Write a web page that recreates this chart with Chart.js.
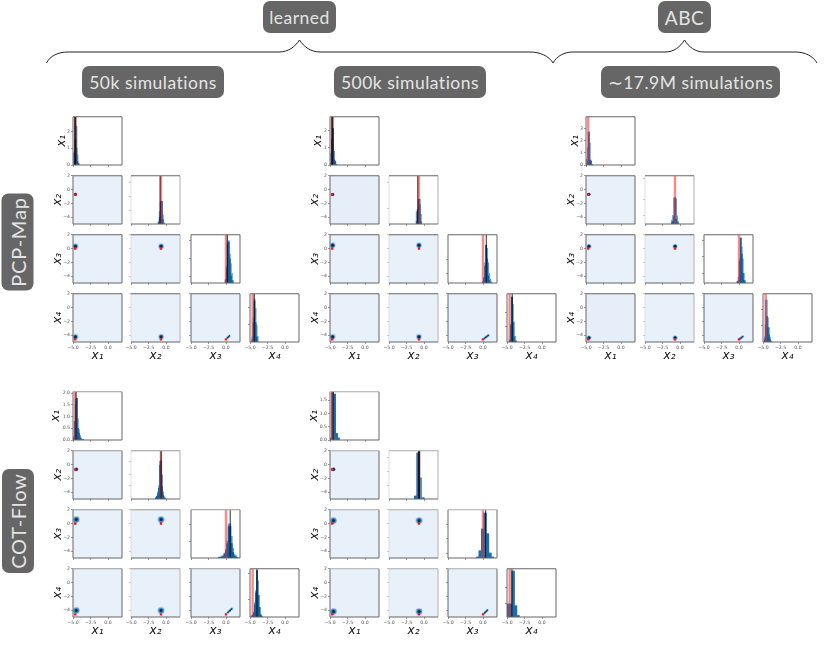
<!DOCTYPE html>
<html>
<head>
<meta charset="utf-8">
<title>Pair plots</title>
<script src="https://cdn.jsdelivr.net/npm/chart.js@4/dist/chart.umd.min.js"></script>
<style>
  html, body { margin: 0; padding: 0; background: #fff; }
  #page { position: relative; width: 830px; height: 648px; overflow: hidden; font-family: Lato, "Open Sans", sans-serif; }
  #page canvas { position: absolute; }
  #braces { position: absolute; left: 0; top: 0; }
  .badge {
    position: absolute; box-sizing: border-box; background: #666; color: #e4e4e4;
    border-radius: 7px; font-size: 17.5px; letter-spacing: 0.5px;
    display: flex; align-items: center; justify-content: center; white-space: nowrap;
  }
  .side { transform: rotate(-90deg); transform-origin: center; font-size: 20px; letter-spacing: 0.8px; }
</style>
</head>
<body>
<div id="page">
  <svg id="braces" width="830" height="110" fill="none" stroke="#222" stroke-width="1">
    <path d="M46.500 63 C50 56 58 52 68 52 L279 52 C288 52 295 47 299.500 40 C304 47 311 52 320 52 L530 52 C540 52 549 56 553 63"/>
    <path d="M553 63 C557 56 564 52 573 52 L665 52 C674 52 680 47 684.500 40 C689 47 695 52 704 52 L795 52 C805 52 813 56 817 63"/>
  </svg>
  <div class="badge" style="left:263px;top:1px;width:73px;height:32px">learned</div>
  <div class="badge" style="left:658px;top:1px;width:53px;height:32px;font-size:19px">ABC</div>
  <div class="badge" style="left:82px;top:66px;width:142px;height:32px">50k simulations</div>
  <div class="badge" style="left:334px;top:66px;width:152px;height:32px">500k simulations</div>
  <div class="badge" style="left:601px;top:66px;width:179px;height:32px">∼17.9M simulations</div>
  <div class="badge side" style="left:-31px;top:226px;width:97px;height:32px">PCP-Map</div>
  <div class="badge side" style="left:-34.500px;top:504.500px;width:104px;height:32px">COT-Flow</div>
</div>
<script>
const axisNames = ['x₁', 'x₂', 'x₃', 'x₄'];
const xTickValues = [-5, -2.5, 0];
const xTickLabels = ['−5.0', '−2.5', '0.0'];
const yTickValues = [2, 0, -2, -4];
const yTickLabels = ['2', '0', '−2', '−4'];
const truth = [-4.68, -0.72, 0, -4.62];

// PCP-Map, 50k
const pcp50BinsX1 = [-4.8, -4.65, -4.5, -4.35, -4.2];
const pcp50LightX1 = [0.75, 1.55, 2.3, 0.6, 0.1];
const pcp50DarkX1 = [0.7, 1.5, 1.0, 0.2, 0.05];
const pcp50BinsX2 = [-1.05, -0.9, -0.75, -0.6, -0.45, -0.3];
const pcp50LightX2 = [0.05, 0.26, 0.47, 0.47, 0.19, 0.03];
const pcp50DarkX2 = [0.03, 0.14, 0.47, 0.47, 0.09, 0];
const pcp50BinsX3 = [-0.05, 0.1, 0.25, 0.4, 0.55, 0.7, 0.85, 1];
const pcp50LightX3 = [0.08, 0.35, 0.85, 0.88, 0.6, 0.4, 0.2, 0.05];
const pcp50DarkX3 = [0.05, 0.3, 0.8, 0.85, 0.5, 0.15, 0.05, 0];
const pcp50BinsX4 = [-4.65, -4.5, -4.35, -4.2, -4.05, -3.9];
const pcp50LightX4 = [0.1, 0.5, 0.89, 0.7, 0.35, 0.12];
const pcp50DarkX4 = [0.05, 0.4, 0.85, 0.4, 0.1, 0];
const pcp50Cloud = [[-4.7, -0.75, 0.2, -4.4], [-4.65, -0.7, 0.35, -4.25], [-4.6, -0.68, 0.5, -4.1]];
const pcp50Black = [-4.68, -0.84, 0.19, -4.39];

// PCP-Map, 500k
const pcp500BinsX1 = [-4.85, -4.7, -4.55, -4.4, -4.25, -4.1];
const pcp500LightX1 = [0.7, 1.5, 2.1, 0.8, 0.25, 0.03];
const pcp500DarkX1 = [0.1, 1.5, 2.15, 0.3, 0.2, 0.02];
const pcp500BinsX2 = [-1.05, -0.9, -0.75, -0.6, -0.45];
const pcp500LightX2 = [0.26, 0.26, 0.51, 0.51, 0.2];
const pcp500DarkX2 = [0.05, 0.3, 0.51, 0.4, 0.05];
const pcp500BinsX3 = [0, 0.15, 0.3, 0.45, 0.6, 0.75, 0.9, 1.05, 1.2];
const pcp500LightX3 = [0.03, 0.12, 0.42, 0.78, 0.72, 0.42, 0.2, 0.08, 0.02];
const pcp500DarkX3 = [0.02, 0.1, 0.35, 0.78, 0.5, 0.15, 0.05, 0.02, 0];
const pcp500BinsX4 = [-4.6, -4.45, -4.3, -4.15, -4, -3.85, -3.7];
const pcp500LightX4 = [0.05, 0.37, 0.93, 0.78, 0.42, 0.12, 0.03];
const pcp500DarkX4 = [0.03, 0.35, 0.93, 0.4, 0.1, 0.02, 0];
const pcp500Cloud = [[-4.66, -0.75, 0.22, -4.45], [-4.62, -0.72, 0.48, -4.25], [-4.58, -0.7, 0.78, -4.02]];
const pcp500Black = [-4.67, -0.89, 0.47, -4.25];

// ABC
const abcBinsX1 = [-4.9, -4.75, -4.6, -4.45, -4.3, -4.15];
const abcLightX1 = [0.5, 1.4, 2.7, 1.8, 0.4, 0.05];
const abcDarkX1 = [0.1, 0.35, 2.7, 0.4, 0.3, 0.02];
const abcBinsX2 = [-1.15, -1, -0.85, -0.7, -0.55, -0.4, -0.25];
const abcLightX2 = [0.08, 0.18, 0.54, 0.54, 0.52, 0.17, 0.05];
const abcDarkX2 = [0.03, 0.05, 0.15, 0.54, 0.1, 0.03, 0.01];
const abcBinsX3 = [-0.2, -0.05, 0.1, 0.25, 0.4, 0.55, 0.7, 0.85];
const abcLightX3 = [0.03, 0.12, 0.5, 0.93, 0.75, 0.5, 0.2, 0.05];
const abcDarkX3 = [0.03, 0.05, 0.45, 0.93, 0.6, 0.2, 0.05, 0.02];
const abcBinsX4 = [-4.75, -4.6, -4.45, -4.3, -4.15, -4, -3.85];
const abcLightX4 = [0.1, 0.87, 0.87, 0.5, 0.3, 0.1, 0.02];
const abcDarkX4 = [0.05, 0.35, 0.53, 0.3, 0.15, 0.05, 0.01];
const abcCloud = [[-4.62, -0.72, 0.1, -4.55], [-4.58, -0.7, 0.33, -4.38], [-4.55, -0.68, 0.55, -4.2]];

// COT-Flow, 50k
const cot50BinsX1 = [-4.9, -4.75, -4.6, -4.45, -4.3, -4.15, -4, -3.85, -3.7, -3.55];
const cot50LightX1 = [0.15, 0.8, 1.75, 1.78, 0.9, 0.45, 0.2, 0.08, 0.03, 0.01];
const cot50DarkX1 = [0.1, 0.8, 1.5, 1.78, 0.5, 0.3, 0.1, 0.04, 0.02, 0.01];
const cot50BinsX2 = [-1.45, -1.3, -1.15, -1, -0.85, -0.7, -0.55, -0.4, -0.25, -0.1];
const cot50LightX2 = [0.03, 0.06, 0.15, 0.28, 0.78, 0.8, 0.5, 0.15, 0.05, 0.02];
const cot50DarkX2 = [0.02, 0.05, 0.1, 0.22, 0.7, 0.78, 0.25, 0.08, 0.02, 0.01];
const cot50BinsX3 = [-1, -0.8, -0.6, -0.4, -0.2, 0, 0.2, 0.4, 0.6, 0.8, 1, 1.2, 1.4, 1.6];
const cot50LightX3 = [0.02, 0.02, 0.04, 0.05, 0.1, 0.18, 0.35, 0.71, 0.71, 0.45, 0.2, 0.08, 0.05, 0.02];
const cot50DarkX3 = [0.01, 0.01, 0.02, 0.03, 0.08, 0.15, 0.3, 0.65, 0.65, 0.3, 0.12, 0.04, 0.02, 0.01];
const cot50BinsX4 = [-4.75, -4.6, -4.45, -4.3, -4.15, -4, -3.85, -3.7, -3.55, -3.4, -3.25];
const cot50LightX4 = [0.03, 0.05, 0.1, 0.3, 0.55, 0.96, 0.75, 0.45, 0.2, 0.05, 0.02];
const cot50DarkX4 = [0.02, 0.03, 0.08, 0.25, 0.5, 0.96, 0.45, 0.2, 0.05, 0.02, 0];
const cot50Cloud = [[-4.6, -0.8, 0.25, -4.35], [-4.53, -0.7, 0.57, -4.05], [-4.48, -0.62, 0.85, -3.8]];
const cot50Black = [-4.57, -0.7, 0.6, -4];

// COT-Flow, 500k
const cot500BinsX1 = [-4.9, -4.62, -4.34, -4.06, -3.78];
const cot500LightX1 = [0.07, 1.8, 1.72, 0.25, 0.07];
const cot500DarkX1 = [0.07, 1.8, 1.72, 0.25, 0.07];
const cot500BinsX2 = [-1.2, -0.85, -0.5, -0.15];
const cot500LightX2 = [0.06, 0.95, 0.44, 0.03];
const cot500DarkX2 = [0.06, 0.95, 0, 0.02];
const cot500BinsX3 = [-0.75, -0.4, -0.05, 0.3, 0.65, 1, 1.35];
const cot500LightX3 = [0.02, 0.15, 0.6, 0.93, 0.5, 0.1, 0.02];
const cot500DarkX3 = [0.02, 0.15, 0.6, 0.93, 0.5, 0.1, 0.02];
const cot500BinsX4 = [-4.82, -4.47, -4.12, -3.77, -3.42];
const cot500LightX4 = [0.27, 0.27, 0.95, 0.23, 0.03];
const cot500DarkX4 = [0.27, 0.27, 0.95, 0.23, 0.03];
const cot500Cloud = [[-4.6, -0.75, 0.2, -4.45], [-4.5, -0.7, 0.43, -4.2], [-4.4, -0.62, 0.65, -4]];
const cot500Black = [-4.55, -0.7, 0.37, -4.3];

// density ticks on the diagonal; only the first row shows labels
const pcp50Ticks = [[0, 1, 2], [0.29, 0.57, 0.86], [0.14, 0.51, 0.88], [0.36, 0.72]];
const pcp500Ticks = [[0, 1, 2], [0.33, 0.87], [0.2, 0.48], [0.32, 0.62]];
const abcTicks = [[0, 1, 2, 3], [0.18, 0.5, 0.95], [0.2, 0.54, 0.88], [0.34, 0.68]];
const cot50Ticks = [[0, 0.5, 1, 1.5, 2], [0.27, 0.51, 0.77], [0.35, 0.69], [0.36, 0.9]];
const cot500Ticks = [[0, 0.5, 1, 1.5], [0.29, 0.57, 0.86], [0.1, 0.4, 0.7], [0.27, 0.62]];
const pcp50TopLabels = ['0', '1', '2'];
const abcTopLabels = ['0', '1', '2', '3'];
const cot50TopLabels = ['0.0', '0.5', '1.0', '1.5', '2.0'];
const cot500TopLabels = ['0.0', '0.5', '1.0', '1.5'];

const pcpRows = [116, 175, 234.3, 293];
const cotRows = [391, 450.3, 509, 568];
const leftCols = [72.5, 131.3, 190.5, 250];
const midCols = [329.5, 388.5, 447.5, 507];
const rightCols = [586, 645, 704, 763];

const panels = [
  { cols: leftCols, rows: pcpRows, bins: [pcp50BinsX1, pcp50BinsX2, pcp50BinsX3, pcp50BinsX4], light: [pcp50LightX1, pcp50LightX2, pcp50LightX3, pcp50LightX4], dark: [pcp50DarkX1, pcp50DarkX2, pcp50DarkX3, pcp50DarkX4], ticks: pcp50Ticks, topLabels: pcp50TopLabels, topMax: 2.87, cloud: pcp50Cloud, black: pcp50Black, blackWidths: [2.2, 1.1, 1.1, 1.1], halo: 3, firstGap: 11.6, edge: '#666', darkColor: '#0f5f9c' },
  { cols: midCols, rows: pcpRows, bins: [pcp500BinsX1, pcp500BinsX2, pcp500BinsX3, pcp500BinsX4], light: [pcp500LightX1, pcp500LightX2, pcp500LightX3, pcp500LightX4], dark: [pcp500DarkX1, pcp500DarkX2, pcp500DarkX3, pcp500DarkX4], ticks: pcp500Ticks, topLabels: pcp50TopLabels, topMax: 2.83, cloud: pcp500Cloud, black: pcp500Black, blackWidths: [2.2, 1.1, 1.1, 1.1], halo: 3, firstGap: 12, edge: '#666', darkColor: '#0f5f9c', tintedCell: '1,0' },
  { cols: rightCols, rows: pcpRows, bins: [abcBinsX1, abcBinsX2, abcBinsX3, abcBinsX4], light: [abcLightX1, abcLightX2, abcLightX3, abcLightX4], dark: [abcDarkX1, abcDarkX2, abcDarkX3, abcDarkX4], ticks: abcTicks, topLabels: abcTopLabels, topMax: 3.95, cloud: abcCloud, black: null, halo: 2.6, firstGap: 11.5, edge: '#666', darkColor: '#0f5f9c', tintedCell: '3,0' },
  { cols: leftCols, rows: cotRows, bins: [cot50BinsX1, cot50BinsX2, cot50BinsX3, cot50BinsX4], light: [cot50LightX1, cot50LightX2, cot50LightX3, cot50LightX4], dark: [cot50DarkX1, cot50DarkX2, cot50DarkX3, cot50DarkX4], ticks: cot50Ticks, topLabels: cot50TopLabels, topMax: 2.06, cloud: cot50Cloud, black: cot50Black, blackWidths: [1.1, 1.1, 1.1, 1.1], halo: 3.6, firstGap: 17, edge: '#999', darkColor: '#0f5f9c' },
  { cols: midCols, rows: cotRows, bins: [cot500BinsX1, cot500BinsX2, cot500BinsX3, cot500BinsX4], light: [cot500LightX1, cot500LightX2, cot500LightX3, cot500LightX4], dark: [cot500DarkX1, cot500DarkX2, cot500DarkX3, cot500DarkX4], ticks: cot500Ticks, topLabels: cot500TopLabels, topMax: 1.81, cloud: cot500Cloud, black: cot500Black, blackWidths: [1.1, 2.2, 1.1, 1.1], halo: 3.6, firstGap: 16, edge: '#aaa', darkColor: '#1b6dab' },
];

const panelSize = 49.5;
const padL = 26, padT = 3, padR = 3, padB = 22;

// background and spines of one panel, drawn around the datasets
const panelFrame = {
  id: 'panelFrame',
  beforeDatasetsDraw(chart, args, opts) {
    if (!opts.bg) return;
    const a = chart.chartArea;
    chart.ctx.fillStyle = opts.bg;
    chart.ctx.fillRect(a.left, a.top, a.width, a.height);
  },
  afterDatasetsDraw(chart, args, opts) {
    const a = chart.chartArea, ctx = chart.ctx;
    const side = (color, width, x0, y0, x1, y1) => {
      ctx.strokeStyle = color;
      ctx.lineWidth = width;
      ctx.beginPath();
      ctx.moveTo(x0, y0);
      ctx.lineTo(x1, y1);
      ctx.stroke();
    };
    ctx.save();
    side(opts.left, 1, a.left, a.top, a.left, a.bottom);
    side(opts.right, opts.rightWidth, a.right, a.top, a.right, a.bottom);
    side(opts.top, 1, a.left, a.top, a.right, a.top);
    side('#666', 1, a.left, a.bottom, a.right, a.bottom);
    ctx.restore();
  },
};

function axisOptions(row, col, yMin, yMax, yTicks, yLabels, showY, titleGap) {
  const tickStyle = { color: '#555', font: { family: 'DejaVu Sans', size: 4.6 }, autoSkip: false, maxRotation: 0, padding: 1 };
  const gridStyle = { drawOnChartArea: false, tickLength: 2, tickWidth: 0.6, tickColor: col === 1 ? '#999' : '#555', offset: false };
  const titleFont = { family: 'DejaVu Sans', style: 'italic', size: 12 };
  return {
    x: {
      type: 'linear', min: -5, max: 2, offset: false,
      afterBuildTicks: s => { s.ticks = xTickValues.map(v => ({ value: v })); },
      afterFit: s => { s.height = padB; },
      border: { display: false }, grid: { ...gridStyle, tickColor: '#555' },
      ticks: { ...tickStyle, callback: (v, i) => (row === 3 ? xTickLabels[i] : '') },
      title: { display: row === 3, text: axisNames[col], color: '#111', padding: { top: 0, bottom: 0.8 }, font: titleFont },
    },
    y: {
      type: 'linear', min: yMin, max: yMax,
      afterBuildTicks: s => { s.ticks = yTicks.map(v => ({ value: v })); },
      afterFit: s => { s.width = padL; },
      border: { display: false }, grid: gridStyle,
      ticks: { ...tickStyle, callback: (v, i) => (showY ? yLabels[i] : '') },
      title: { display: col === 0, text: axisNames[row], color: '#111', padding: { top: 18.8 - titleGap, bottom: 0 }, font: titleFont },
    },
  };
}

function frameOptions(p, row, col, bg) {
  return {
    panelFrame: {
      bg,
      left: col === 1 ? '#ddd' : '#666',
      right: col === 1 ? '#ccc' : '#666',
      rightWidth: col === 1 ? 1.6 : 1,
      top: col === 3 ? '#666' : p.edge,
    },
    legend: { display: false }, tooltip: { enabled: false },
  };
}

function addCanvas(p, row, col) {
  const c = document.createElement('canvas');
  c.width = panelSize + padL + padR;
  c.height = panelSize + padT + padB;
  c.style.left = (p.cols[col] - padL) + 'px';
  c.style.top = (p.rows[row] - padT) + 'px';
  document.getElementById('page').appendChild(c);
  return c;
}

function drawHist(p, d) {
  const yMax = d === 0 ? p.topMax : 1;
  const vline = (x, color, width, order) => ({
    type: 'line', data: [{ x, y: 0 }, { x, y: yMax }], borderColor: color, borderWidth: width, pointRadius: 0, order,
  });
  const bars = (values, color, order) => ({
    type: 'bar', data: p.bins[d].map((x, i) => ({ x, y: values[i] })), backgroundColor: color,
    barPercentage: 1, categoryPercentage: 1, grouped: false, borderWidth: 0, order,
  });
  const sets = [bars(p.light[d], '#5aa0d2', 4), bars(p.dark[d], p.darkColor, 3), vline(truth[d], 'rgba(255,40,40,0.55)', 2.4, 2)];
  if (p.black) sets.push(vline(p.black[d], 'rgba(0,0,0,0.75)', p.blackWidths[d], 1));
  new Chart(addCanvas(p, d, d), {
    type: 'bar',
    data: { datasets: sets },
    options: {
      responsive: false, animation: false, devicePixelRatio: 1, events: [],
      layout: { autoPadding: false, padding: { top: padT, right: padR, left: 0, bottom: 0 } },
      scales: axisOptions(d, d, 0, yMax, p.ticks[d], p.topLabels, d === 0, d === 0 ? p.firstGap : 15.6),
      plugins: frameOptions(p, d, d, null),
    },
    plugins: [panelFrame],
  });
}

function drawPair(p, row, col) {
  // x3 against x4 keeps its thin diagonal, every other pair is a round blob
  const thin = row === 3 && col === 2;
  const pts = (thin ? p.cloud : [p.cloud[1]]).map(s => ({ x: s[col], y: s[row] }));
  const scale = row === 1 ? 0.65 : 1;
  const halo = thin ? 1.4 : p.halo * scale;
  const layer = (color, radius, lineWidth, order) => ({
    data: pts, backgroundColor: color, borderColor: color, pointRadius: radius, pointBorderWidth: 0,
    showLine: thin, borderWidth: lineWidth, order,
  });
  new Chart(addCanvas(p, row, col), {
    type: 'scatter',
    data: {
      datasets: [
        layer('rgba(150,195,230,0.8)', halo, 2.6, 4),
        layer('#3f8cc6', halo - 0.8, 1.7, 3),
        layer('#0a2a4d', thin ? 0.5 : 1.5, 0.9, 2),
        { data: [{ x: truth[col], y: truth[row] }], backgroundColor: '#f01818', pointStyle: 'rect', pointRadius: 1.7, pointBorderWidth: 0, order: 1 },
      ],
    },
    options: {
      responsive: false, animation: false, devicePixelRatio: 1, events: [],
      layout: { autoPadding: false, padding: { top: padT, right: padR, left: 0, bottom: 0 } },
      scales: axisOptions(row, col, -5, 2, yTickValues, yTickLabels, col === 0, 15.6),
      plugins: frameOptions(p, row, col, p.tintedCell === row + ',' + col ? '#e6eef9' : '#e8f0fa'),
    },
    plugins: [panelFrame],
  });
}

panels.forEach(p => {
  for (let row = 0; row < 4; row++) {
    for (let col = 0; col <= row; col++) {
      if (row === col) drawHist(p, row);
      else drawPair(p, row, col);
    }
  }
});
</script>
</body>
</html>
